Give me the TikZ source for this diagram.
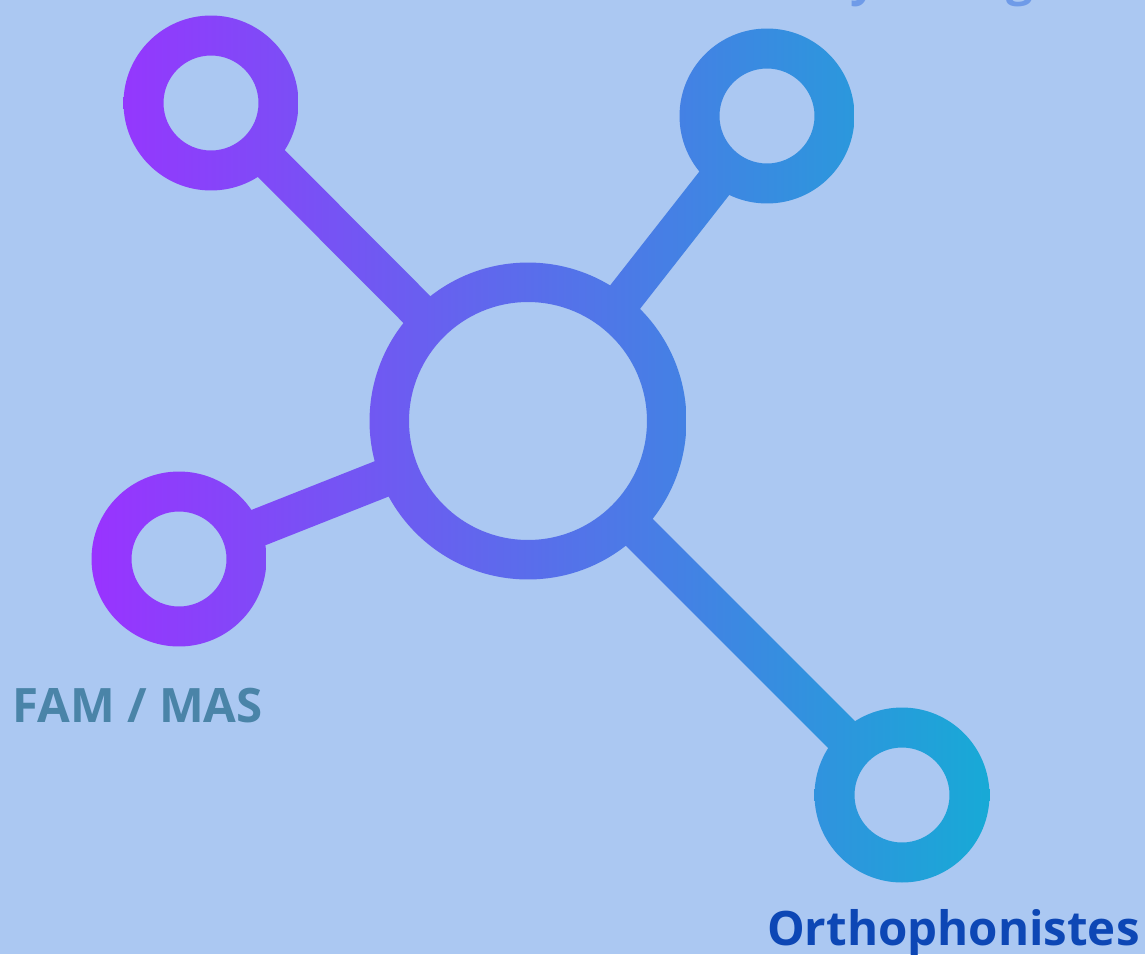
\documentclass[tikz,border=0pt]{standalone}
\usepackage{fontspec}
\setmainfont{Open Sans}
\usetikzlibrary{calc}
\definecolor{bgblue}{HTML}{ABC8F2}
\definecolor{grpurple}{HTML}{9933FF}
\definecolor{grteal}{HTML}{17AAD6}
\definecolor{famtxt}{HTML}{4A84A8}
\definecolor{orthotxt}{HTML}{0D47B5}
\definecolor{toptxt}{HTML}{6F9BE8}
\tikzset{
  lab/.style={font=\fontsize{27}{33}\selectfont\bfseries,inner sep=0pt},
  gradfill/.style={left color=grpurple,right color=grteal},
}

\begin{document}
\begin{tikzpicture}[x=0.02cm,y=-0.02cm]
  \useasboundingbox (0,0) rectangle (1145,954);
  \fill[bgblue] (0,0) rectangle (1145,954);
  % ring centres
  \coordinate (hub) at (528,421);
  \coordinate (nw) at (211,103);
  \coordinate (ne) at (767,116);
  \coordinate (sw) at (179,559);
  \coordinate (se) at (902,795);
  % links, from inside leaf ring to inside hub ring
  \foreach \leaf in {nw,ne,sw,se}{
    \begin{scope}
      \clip ($(\leaf)!1.6cm!(hub)!0.38cm!90:(hub)$) -- ($(\leaf)!1.6cm!(hub)!0.38cm!-90:(hub)$)
        -- ($(hub)!2.9cm!(\leaf)!0.38cm!90:(\leaf)$) -- ($(hub)!2.9cm!(\leaf)!0.38cm!-90:(\leaf)$) -- cycle;
      \shade[gradfill] (90,0) rectangle (992,954);
    \end{scope}
  }
  % rings
  \begin{scope}[even odd rule]
    \clip (hub) circle[radius=3.17cm] (hub) circle[radius=2.38cm];
    \shade[gradfill] (90,0) rectangle (992,954);
  \end{scope}
  \foreach \leaf in {nw,ne,sw,se}{
    \begin{scope}[even odd rule]
      \clip (\leaf) circle[radius=1.75cm] (\leaf) circle[radius=0.95cm];
      \shade[gradfill] (90,0) rectangle (992,954);
    \end{scope}
  }
  \node[lab,text=toptxt,anchor=base west] (toplab) at (797,-5) {Psychologues};
  \node[lab,text=famtxt,anchor=base west] (famlab) at (12,722) {FAM / MAS};
  \node[lab,text=orthotxt,anchor=base east] (ortholab) at (1140,945) {Orthophonistes};
\end{tikzpicture}
\end{document}
